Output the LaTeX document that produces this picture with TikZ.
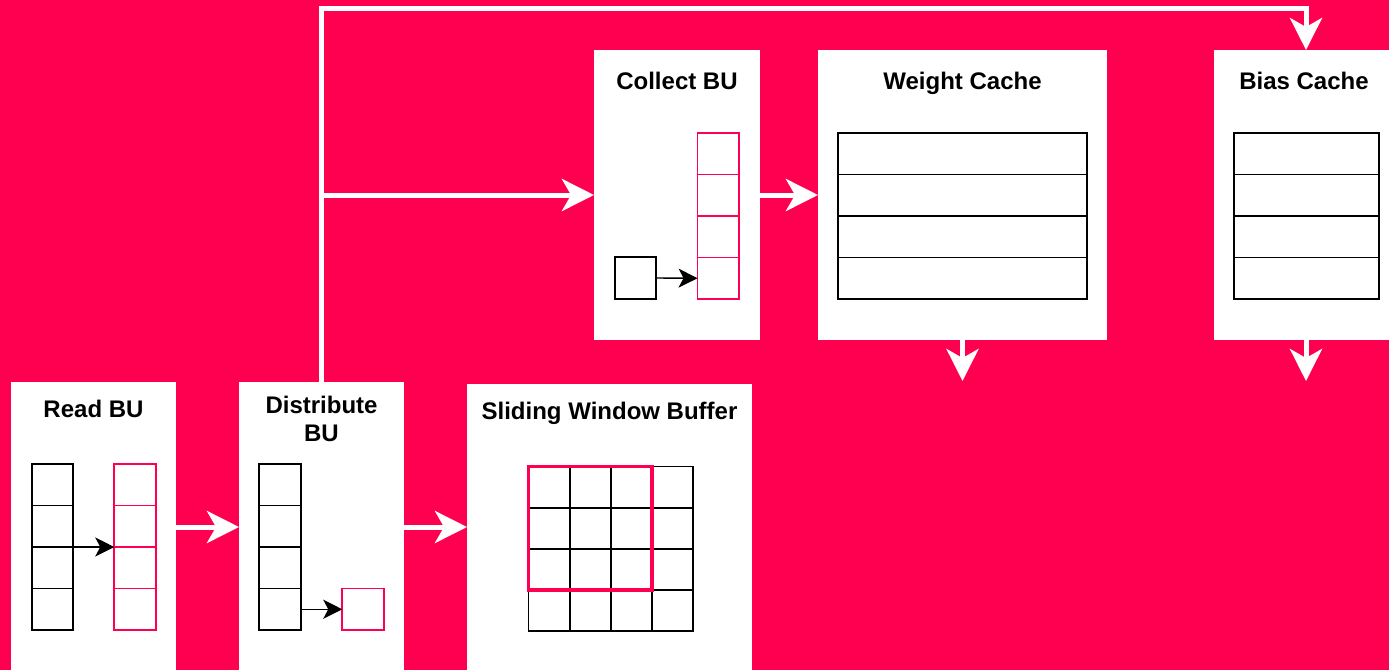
\documentclass[tikz,border=0pt]{standalone}
\usepackage{fontspec}
\setmainfont{Liberation Sans}
\usetikzlibrary{arrows.meta}
\definecolor{bg}{RGB}{255,0,80}
\begin{document}
\begin{tikzpicture}[x=1pt,y=-1pt,
  unit/.style={fill=white, draw=none, inner sep=0pt, outer sep=0pt, anchor=north west},
  title/.style={font=\bfseries\fontsize{24}{28.5}\selectfont, align=center, inner sep=0pt, anchor=base},
  cell/.style={draw=black, line width=1.8pt, inner sep=0pt, outer sep=0pt,
               minimum width=41.5pt, minimum height=41.5pt},
  pcell/.style={cell, draw=bg, line width=1.6pt},
  row/.style={cell, minimum height=41.5pt},
  flow/.style={draw=white, line width=5pt, line join=miter,
               -{Stealth[length=32pt,width=32pt,inset=9pt]}},
  feed/.style={draw=black, line width=1.4pt, -{Stealth[length=19pt,width=19pt,inset=5pt]}},
]
% canvas
\useasboundingbox (0,0) rectangle (1389,670);
\clip (0,0) rectangle (1389,670);
\fill[bg] (0,0) rectangle (1389,670);

% processing units
\node[unit, minimum width=165pt, minimum height=290pt] (read)    at (11,382)  {};
\node[unit, minimum width=165pt, minimum height=290pt] (dist)    at (239,382) {};
\node[unit, minimum width=285pt, minimum height=290pt] (swb)     at (467,384) {};
\node[unit, minimum width=166pt, minimum height=290pt] (collect) at (594,50)  {};
\node[unit, minimum width=289pt, minimum height=290pt] (weight)  at (818,50)  {};
\node[unit, minimum width=184pt, minimum height=290pt] (bias)    at (1214,50) {};

% titles
\node[title] (tread)    at (93.5,417)  {Read BU};
\node[title] (tdist)    at (321.5,441.5) {Distribute\\BU};
\node[title] (tswb)     at (609.5,419) {Sliding Window Buffer};
\node[title] (tcollect) at (677,89)    {Collect BU};
\node[title] (tweight)  at (962.5,89)  {Weight Cache};
\node[title] (tbias)    at (1304,89)   {Bias Cache};

% Read BU: source column and destination column
\foreach \i in {1,...,4} {
  \node[cell]  (rb\i) at (52.5, 443.25+41.5*\i) {};
  \node[pcell] (rp\i) at (135,  443.25+41.5*\i) {};
}
\draw[feed] (rb2.south east) -- (rp2.south west);

% Distribute BU
\foreach \i in {1,...,4} {
  \node[cell] (db\i) at (280, 443.25+41.5*\i) {};
}
\node[pcell] (dp) at (363, 609.25) {};
\draw[feed] (db4.east) -- (dp.west);

% Sliding window grid with the active 3x3 window
\foreach \r in {1,...,4} {
  \foreach \c in {1,...,4} {
    \node[cell, minimum width=41.2pt, minimum height=41.2pt]
      (g\r\c) at (507.9+41.2*\c, 445.9+41.2*\r) {};
  }
}
\draw[bg, line width=3.5pt] (g11.north west) rectangle (g33.south east);

% Collect BU
\foreach \i in {1,...,4} {
  \node[pcell] (cp\i) at (718.3, 112.25+41.5*\i) {};
}
\node[cell] (cb) at (635.5, 278) {};
\draw[feed] (cb.east) -- (cp4.west);

% caches
\foreach \i in {1,...,4} {
  \node[row, minimum width=249pt] (wr\i) at (962.5, 112.25+41.5*\i) {};
  \node[row, minimum width=145pt] (br\i) at (1306.5, 112.25+41.5*\i) {};
}

% data flow
\coordinate (split) at (dist.north |- collect.west);
\coordinate (wout) at (962.5,381);
\coordinate (bout) at (1306,381);
\draw[flow] (read.east) -- (dist.west);
\draw[flow] (dist.east) -- (dist.east -| swb.west);
\draw[flow] (dist.north) -- (dist.north |- 0,8) -| (bias.north);
\draw[flow] (split) -- (collect.west);
\draw[flow] (collect.east) -- (weight.west);
\draw[flow] (weight.south) -- (wout);
\draw[flow] (bias.south -| bout) -- (bout);
\end{tikzpicture}
\end{document}
